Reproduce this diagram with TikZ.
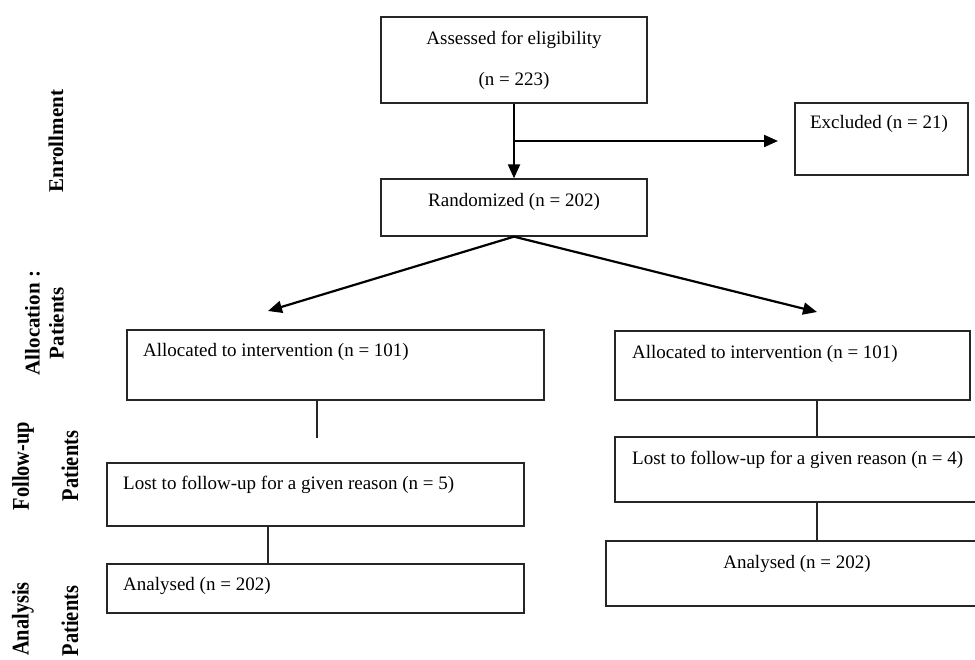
\documentclass[tikz,border=0pt]{standalone}
\usepackage{fontspec}
\usepackage{graphicx}
\setmainfont{Liberation Serif}
\usetikzlibrary{arrows.meta,calc}
\begin{document}
\begin{tikzpicture}[x=1pt,y=-1pt,
  box/.style={draw=black!85, line width=1.3pt, inner sep=0pt},
  txt/.style={inner sep=0pt, font=\fontsize{19}{23}\selectfont, text height=13.5pt, text depth=4.5pt},
  arr/.style={line width=2.2pt, -{Triangle[length=14pt,width=12pt]}},
  conn/.style={line width=1.3pt, draw=black!85},
  lab/.style={rotate=90, inner sep=0pt, font=\bfseries\fontsize{21}{24}\selectfont, align=center},
  labb/.style={rotate=90, inner sep=0pt, font=\bfseries\fontsize{24}{28}\selectfont}]
\useasboundingbox (0,0) rectangle (975,659);
\clip (0,0) rectangle (975,659);

% boxes
\node[box, minimum width=266pt, minimum height=86pt] (A) at (514,60) {};
\node[box, minimum width=173pt, minimum height=72pt] (E) at (881.5,139) {};
\node[box, minimum width=266pt, minimum height=57pt] (R) at (514,207.5) {};
\node[box, minimum width=417pt, minimum height=70pt] (L1) at (335.5,365) {};
\node[box, minimum width=417pt, minimum height=63pt] (L2) at (315.5,494.5) {};
\node[box, minimum width=417pt, minimum height=49pt] (L3) at (315.5,588.5) {};
\node[box, minimum width=355pt, minimum height=69pt] (R1) at (792.5,365.5) {};
\node[box, minimum width=375pt, minimum height=65pt] (R2) at (802.5,469.5) {};
\node[box, minimum width=384pt, minimum height=65pt] (R3) at (798,573.5) {};

% texts
\node[txt] (At1) at (514,40) {Assessed for eligibility};
\node[txt] (At2) at (514,81) {(n = 223)};
\node[txt] (Et) at (879,124) {Excluded (n = 21)};
\node[txt] (Rt) at (514,202) {Randomized (n = 202)};
\node[txt, anchor=west] (L1t) at (143,352) {Allocated to intervention (n = 101)};
\node[txt, anchor=west] (L2t) at (123,485) {Lost to follow-up for a given reason (n = 5)};
\node[txt, anchor=west] (L3t) at (123,586) {Analysed (n = 202)};
\node[txt, anchor=west] (R1t) at (632,354) {Allocated to intervention (n = 101)};
\node[txt, anchor=west] (R2t) at (632,460) {Lost to follow-up for a given reason (n = 4)};
\node[txt] (R3t) at (797,564) {Analysed (n = 202)};

% side labels
\node[lab] (enr) at (56,141) {Enrollment};
\node[lab] (alloc) at (44.5,323) {Allocation :\\Patients};
\node[labb] (fu) at (23,466) {\scalebox{0.85}[1]{Follow-up}};
\node[labb] (fup) at (70,466) {\scalebox{0.85}[1]{Patients}};
\node[labb] (an) at (23,619) {\scalebox{0.85}[1]{Analysis}};
\node[labb] (anp) at (70,621) {\scalebox{0.85}[1]{Patients}};

% connectors
\coordinate (br) at ($(A.south)!0.5!(R.north)$);
\coordinate (exend) at (778,141);
\coordinate (ltip) at (268,311);
\coordinate (rtip) at (817,312);
\coordinate (l1end) at (317,438);
\coordinate (lx) at (268,0);
\coordinate (rx) at (817,0);

\draw[arr] (A) -- (R);
\draw[arr] (br) -- (exend);
\draw[arr] (R.south) -- (ltip);
\draw[arr] (R.south) -- (rtip);
\draw[conn] (l1end |- L1.south) -- (l1end);
\draw[conn] (L2.south -| lx) -- (L3.north -| lx);
\draw[conn] (R1.south -| rx) -- (R2.north -| rx);
\draw[conn] (R2.south -| rx) -- (R3.north -| rx);
\end{tikzpicture}
\end{document}
